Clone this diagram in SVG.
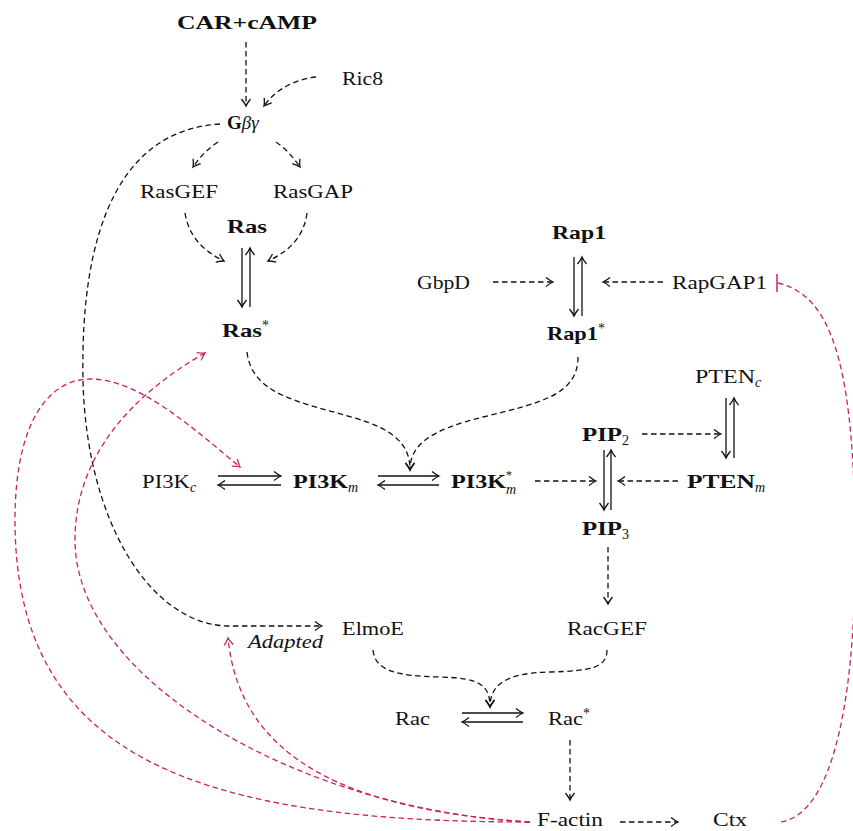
<svg xmlns="http://www.w3.org/2000/svg" width="853" height="831" viewBox="0 0 853 831">
<style>
text{font-family:"Liberation Serif","Times New Roman",serif;font-size:19px;fill:#111}
.b{font-weight:bold}
.i{font-style:italic}
.sub{font-style:italic;font-weight:normal;font-size:14px}
.subn{font-weight:normal;font-size:14px}
.sup{font-weight:normal;font-size:14px}
.d{fill:none;stroke:#111;stroke-width:1.3;stroke-dasharray:5.5 3.5;marker-end:url(#ah)}
.s{fill:none;stroke:#111;stroke-width:1.3;marker-end:url(#ah)}
.r{fill:none;stroke:#cc2060;stroke-width:1.3;stroke-dasharray:5.5 3.5;marker-end:url(#ahr)}
.rn{fill:none;stroke:#cc2060;stroke-width:1.3;stroke-dasharray:5.5 3.5}
</style>
<defs>
<marker id="ah" viewBox="-10 -7 12 14" refX="0" refY="0" markerWidth="12" markerHeight="14" markerUnits="userSpaceOnUse" orient="auto">
<path d="M-7,-4.5 Q-2.5,-1 0,0 Q-2.5,1 -7,4.5" fill="none" stroke="#111" stroke-width="1.3" stroke-dasharray="none"/>
</marker>
<marker id="ahr" viewBox="-10 -7 12 14" refX="0" refY="0" markerWidth="12" markerHeight="14" markerUnits="userSpaceOnUse" orient="auto">
<path d="M-7,-4.5 Q-2.5,-1 0,0 Q-2.5,1 -7,4.5" fill="none" stroke="#cc2060" stroke-width="1.3" stroke-dasharray="none"/>
</marker>
</defs>
<rect width="853" height="831" fill="#fff"/>
<g id="connectors">
<path class="d" d="M246,42 L246,106"/>
<path class="d" d="M316,77 C295,79 275,90 264,106"/>
<path class="d" d="M218,142 Q203,152 193,167"/>
<path class="d" d="M276,142 Q290,152 300,167"/>
<path class="d" d="M185,213 Q190,245 224,261"/>
<path class="d" d="M307,213 Q303,245 268,261"/>
<path class="s" d="M242,248 L242,307"/>
<path class="s" d="M250,307 L250,248"/>
<path class="d" d="M247,352 C252,395 300,402 355,418 C395,430 410,445 410,470"/>
<path class="d" d="M578,357 C578,395 540,403 483,417 C430,430 410,445 410,470"/>
<path class="s" d="M574,257 L574,316"/>
<path class="s" d="M582,316 L582,257"/>
<path class="d" d="M493,282 L553,282"/>
<path class="d" d="M663,282 L603,282"/>
<path class="s" d="M218,476 L281,476"/>
<path class="s" d="M281,485 L218,485"/>
<path class="s" d="M378,476 L439,476"/>
<path class="s" d="M439,485 L378,485"/>
<path class="d" d="M535,481 L596,481"/>
<path class="d" d="M678,481 L618,481"/>
<path class="d" d="M642,434 L721,434"/>
<path class="s" d="M604,450 L604,510"/>
<path class="s" d="M611,510 L611,450"/>
<path class="s" d="M726,398 L726,458"/>
<path class="s" d="M734,458 L734,398"/>
<path class="d" d="M608,547 L608,604"/>
<path class="d" d="M220,124 C120,130 80,230 83,380 C86,520 150,626 230,626 L322,626"/>
<path class="d" d="M373,650 C375,672 400,676 440,677 C480,678 490,685 490,707"/>
<path class="d" d="M607,650 C607,668 590,671 550,672 C505,673 490,685 490,707"/>
<path class="s" d="M462,713 L523,713"/>
<path class="s" d="M523,722 L462,722"/>
<path class="d" d="M570,740 L570,800"/>
<path class="d" d="M620,822 L678,822"/>
<path class="r" d="M530,822 C200,822 15,760 15,520 C15,420 50,379 90,379 C140,379 195,430 240,467"/>
<path class="r" d="M530,822 C300,810 75,680 75,540 C75,450 140,390 205,353"/>
<path class="r" d="M530,822 C350,810 240,760 228,638"/>
<path class="rn" d="M778,283 C830,295 852,360 855,520 C858,690 835,815 780,822"/>
<path d="M777,274 L777,292" stroke="#cc2060" stroke-width="1.5" fill="none"/>
</g>
<g id="car"><text class="b" x="177" y="29" textLength="140" lengthAdjust="spacingAndGlyphs">CAR+cAMP</text></g>
<g id="ric8"><text x="342" y="85" textLength="41" lengthAdjust="spacingAndGlyphs">Ric8</text></g>
<g id="gbg"><text x="227" y="129"><tspan class="b">G</tspan><tspan class="i">βγ</tspan></text></g>
<g id="rasgef"><text x="140" y="198" textLength="78" lengthAdjust="spacingAndGlyphs">RasGEF</text></g>
<g id="rasgap"><text x="273" y="198" textLength="80" lengthAdjust="spacingAndGlyphs">RasGAP</text></g>
<g id="ras"><text class="b" x="227" y="233" textLength="40" lengthAdjust="spacingAndGlyphs">Ras</text></g>
<g id="rasstar"><text class="b" x="222" y="337"><tspan textLength="40" lengthAdjust="spacingAndGlyphs">Ras</tspan><tspan class="sup" dy="-7">*</tspan></text></g>
<g id="rap1"><text class="b" x="552" y="239" textLength="54" lengthAdjust="spacingAndGlyphs">Rap1</text></g>
<g id="rap1star"><text class="b" x="547" y="340"><tspan textLength="51" lengthAdjust="spacingAndGlyphs">Rap1</tspan><tspan class="sup" dy="-7">*</tspan></text></g>
<g id="gbpd"><text x="417" y="289" textLength="53" lengthAdjust="spacingAndGlyphs">GbpD</text></g>
<g id="rapgap1"><text x="672" y="289" textLength="95" lengthAdjust="spacingAndGlyphs">RapGAP1</text></g>
<g id="ptenc"><text x="695" y="383"><tspan textLength="60" lengthAdjust="spacingAndGlyphs">PTEN</tspan><tspan class="sub" dy="4">c</tspan></text></g>
<g id="pip2"><text class="b" x="582" y="441"><tspan textLength="40" lengthAdjust="spacingAndGlyphs">PIP</tspan><tspan class="subn" dy="4">2</tspan></text></g>
<g id="pi3kc"><text x="142" y="488"><tspan textLength="48" lengthAdjust="spacingAndGlyphs">PI3K</tspan><tspan class="sub" dy="4">c</tspan></text></g>
<g id="pi3km"><text class="b" x="293" y="488"><tspan textLength="55" lengthAdjust="spacingAndGlyphs">PI3K</tspan><tspan class="sub" dy="4">m</tspan></text></g>
<g id="pi3kstar"><text class="b" x="451" y="488"><tspan textLength="55" lengthAdjust="spacingAndGlyphs">PI3K</tspan><tspan font-weight="normal" font-size="12" dy="-9">*</tspan><tspan class="sub" font-size="13" dx="-6" dy="15">m</tspan></text></g>
<g id="ptenm"><text class="b" x="687" y="488"><tspan textLength="68" lengthAdjust="spacingAndGlyphs">PTEN</tspan><tspan class="sub" dy="4">m</tspan></text></g>
<g id="pip3"><text class="b" x="582" y="535"><tspan textLength="40" lengthAdjust="spacingAndGlyphs">PIP</tspan><tspan class="subn" dy="4">3</tspan></text></g>
<g id="elmoe"><text x="342" y="635" textLength="62" lengthAdjust="spacingAndGlyphs">ElmoE</text></g>
<g id="racgef"><text x="567" y="635" textLength="80" lengthAdjust="spacingAndGlyphs">RacGEF</text></g>
<g id="adapted"><text class="i" x="248" y="648" textLength="75" lengthAdjust="spacingAndGlyphs">Adapted</text></g>
<g id="rac"><text x="395" y="725" textLength="35" lengthAdjust="spacingAndGlyphs">Rac</text></g>
<g id="racstar"><text x="548" y="725"><tspan textLength="35" lengthAdjust="spacingAndGlyphs">Rac</tspan><tspan class="sup" dy="-7">*</tspan></text></g>
<g id="factin"><text x="537" y="826" textLength="66" lengthAdjust="spacingAndGlyphs">F-actin</text></g>
<g id="ctx"><text x="713" y="826" textLength="34" lengthAdjust="spacingAndGlyphs">Ctx</text></g>
</svg>
